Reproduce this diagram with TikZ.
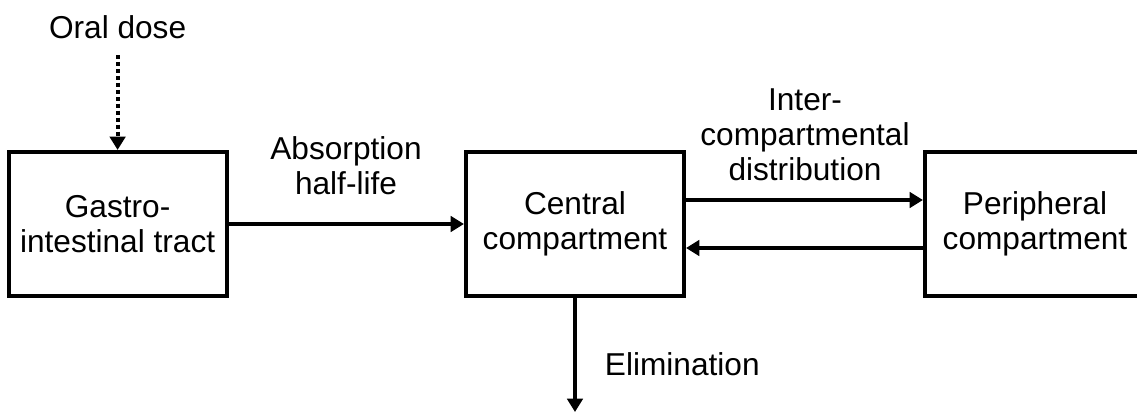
\documentclass[tikz,border=0pt]{standalone}
\usepackage{fontspec}
\setmainfont{Liberation Sans}
\usetikzlibrary{arrows.meta}

\tikzset{
  compbox/.style={draw, line width=2.9pt, minimum width=5.45cm,
    minimum height=3.6cm, align=center},
  flow/.style={line width=2.9pt, -{Triangle[length=9.5pt,width=11pt]}},
  lbl/.style={align=center}
}

\begin{document}
\begin{tikzpicture}[font=\fontsize{22.5}{25}\selectfont]
      \clip (0,0) rectangle (28.425,10.35);
      \useasboundingbox (0,0) rectangle (28.425,10.35);

      \node[compbox] (gi) at (2.94,4.75) {Gastro-\\intestinal tract};
      \node[compbox] (central) at (14.375,4.75) {Central\\compartment};
      \node[compbox, minimum width=5.5cm] (peri) at (25.875,4.75)
        {Peripheral\\compartment};

      \node (oral) at (2.94,9.675) {Oral dose};
      \node[lbl] (abs) at (8.65,6.2) {Absorption\\half-life};
      \node[lbl] (inter) at (20.125,6.975)
        {Inter-\\compartmental\\distribution};
      \node[anchor=west] (elim) at (15.0,1.25) {Elimination};

      \coordinate (dose) at (2.94,8.975);
      \coordinate (out) at (14.375,0.05);

      \draw[flow, dash pattern=on 2.85pt off 2.1pt] (dose) -- (gi.north);
      \draw[flow] (gi) -- (central);
      \draw[flow] ([yshift=0.6cm]central.east) -- ([yshift=0.6cm]peri.west);
      \draw[flow] ([yshift=-0.6cm]peri.west) -- ([yshift=-0.6cm]central.east);
      \draw[flow] (central.south) -- (out);
  \end{tikzpicture}
\end{document}
